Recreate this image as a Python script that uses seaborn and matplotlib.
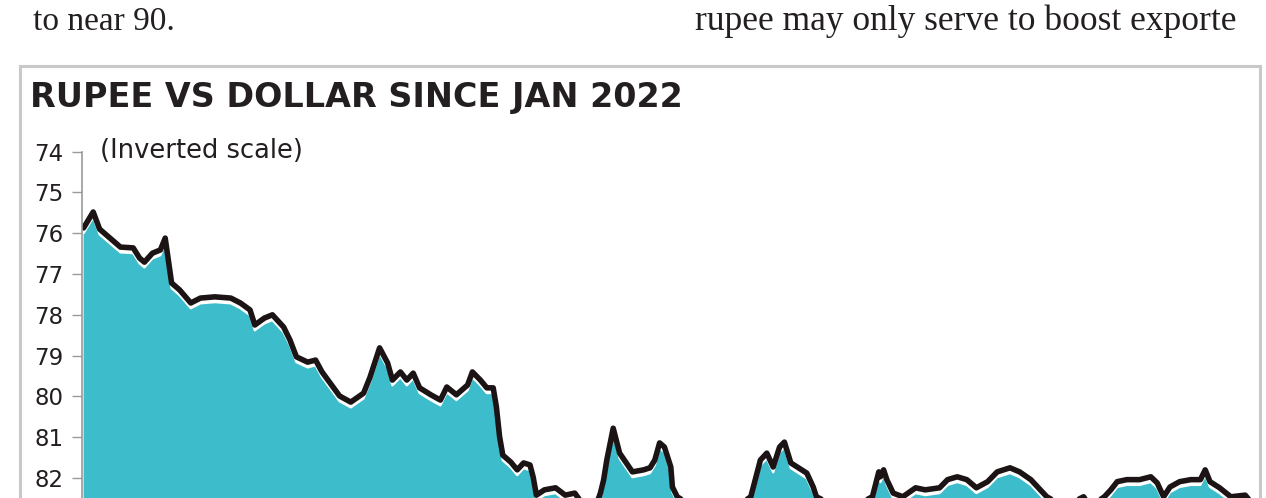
import pandas as pd
import numpy as np
import seaborn as sns
import matplotlib.pyplot as plt
from matplotlib.patches import Rectangle

# data: days since 1 Jan 2022, rupee per dollar
days = [1, 7, 11, 19, 24, 32, 36, 39, 44, 49, 52, 56, 61, 68, 74, 83, 93, 99,
        105, 108, 114, 119, 126, 130, 134, 141, 146, 150, 155, 161, 168, 176,
        180, 186, 191, 194, 199, 203, 207, 211, 218, 224, 228, 234, 241, 244,
        249, 253, 257, 259, 261, 263, 268, 272, 276, 280, 282, 284, 289, 296,
        302, 308, 314, 321, 324, 326, 328, 332, 336, 341, 344, 351, 355, 358,
        361, 364, 368, 369, 372, 386, 405, 418, 424, 428, 432, 436, 439, 443,
        447, 453, 457, 459, 477, 494, 498, 499, 501, 503, 507, 513, 521, 527,
        536, 541, 547, 553, 559, 566, 572, 580, 586, 593, 599, 603, 614, 626,
        630, 639, 643, 647, 653, 661, 668, 672, 676, 680, 686, 693, 699, 702,
        705, 711, 718, 727, 733, 740]
rate = [75.87, 75.48, 75.90, 76.17, 76.34, 76.36, 76.61, 76.71, 76.49, 76.41,
        76.12, 77.22, 77.39, 77.71, 77.59, 77.56, 77.59, 77.71, 77.88, 78.25,
        78.08, 78.00, 78.30, 78.62, 79.03, 79.16, 79.11, 79.40, 79.67, 79.99,
        80.14, 79.92, 79.53, 78.81, 79.18, 79.60, 79.40, 79.60, 79.43, 79.79,
        79.96, 80.09, 79.77, 79.96, 79.72, 79.40, 79.60, 79.79, 79.79, 80.26,
        80.99, 81.44, 81.61, 81.80, 81.63, 81.68, 81.98, 82.42, 82.29, 82.24,
        82.42, 82.37, 82.70, 82.70, 82.37, 82.05, 81.56, 80.78, 81.39, 81.68,
        81.85, 81.80, 81.75, 81.56, 81.14, 81.24, 81.73, 82.22, 82.46, 82.80,
        82.80, 82.46, 81.56, 81.39, 81.73, 81.24, 81.12, 81.63, 81.73, 81.88,
        82.22, 82.46, 82.80, 82.46, 81.85, 81.97, 81.80, 82.04, 82.37, 82.46,
        82.24, 82.29, 82.24, 82.04, 81.97, 82.04, 82.24, 82.09, 81.85, 81.75,
        81.85, 82.04, 82.29, 82.46, 82.70, 82.46, 82.70, 82.46, 82.29, 82.09,
        82.04, 82.04, 81.97, 82.12, 82.46, 82.22, 82.09, 82.04, 82.04, 81.80,
        82.09, 82.24, 82.46, 82.42, 82.70, 82.80]

yticks = [74, 75, 76, 77, 78, 79, 80, 81, 82]

df = pd.DataFrame({'day': days, 'rate': rate})

sns.set_style('white')
plt.rcParams['font.family'] = ['DejaVu Sans']

W, H = 1266, 498
fig = plt.figure(figsize=(W/100, H/100), dpi=100)
fig.patch.set_facecolor('white')

# gray frame around the graphic
fig.patches.append(Rectangle((20/W, -0.1), (1260-20)/W, 1.1 - 66/H,
                             transform=fig.transFigure, fill=False,
                             edgecolor='#c9c9c9', lw=2.2))

ax = fig.add_axes([82/W, 0, (W-82)/W, (H-151.6)/H])
ax.set_facecolor('none')

teal = '#3dbccb'
ax.fill_between(df['day'], df['rate'] + 0.13, 90, color=teal, lw=0)
ax.plot(df['day'], df['rate'] + 0.13, color='white', lw=1.6)
sns.lineplot(data=df, x='day', y='rate', color='#1c1414', lw=4, ax=ax)

ax.set_xlim(0, 740)
ax.set_ylim(82.49, 74)
ax.set_yticks(yticks)
ax.set_yticklabels([str(t) for t in yticks], fontsize=16.5, color='#231f20')
ax.tick_params(axis='y', length=7.2, width=1, color='#9a9a9a', pad=6, left=True)
ax.set_xticks([])
ax.set_xlabel('')
ax.set_ylabel('')
for s in ['top', 'right', 'bottom']:
    ax.spines[s].set_visible(False)
ax.spines['left'].set_color('#9a9a9a')
ax.spines['left'].set_linewidth(1.2)

fig.text(30/W, 1 - 107/H, 'RUPEE VS DOLLAR SINCE JAN 2022', fontsize=24,
         fontweight='bold', color='#231f20', va='baseline', ha='left')
fig.text(100/W, 1 - 151/H, '(Inverted scale)', fontsize=18.5, color='#231f20',
         va='center', ha='left')

# article text above the graphic
fig.text(33/W, 1 - 30/H, 'to near 90.', fontsize=24, family='Liberation Serif',
         color='#231f20', va='baseline')
fig.text(695/W, 1 - 30/H, 'rupee may only serve to boost exporte', fontsize=25.5,
         family='Liberation Serif', color='#231f20', va='baseline')

fig.savefig('out.png', dpi=100)
